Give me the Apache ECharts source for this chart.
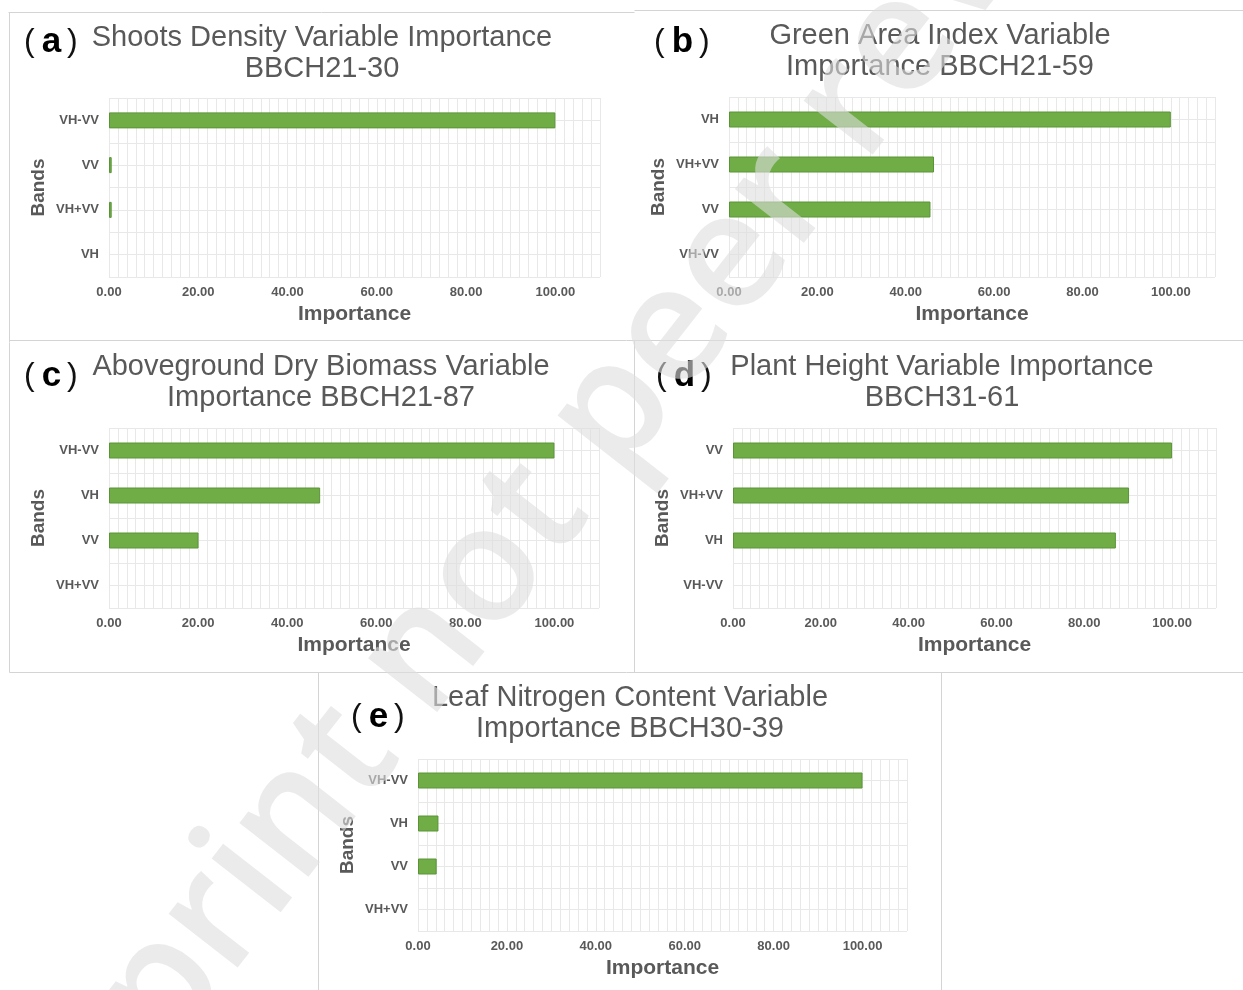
<!DOCTYPE html>
<html>
<head>
<meta charset="utf-8">
<script src="https://cdn.jsdelivr.net/npm/echarts@6/dist/echarts.min.js"></script>
<style>
html, body { margin: 0; padding: 0; background: #ffffff; }
#chart { width: 1243px; height: 990px; }
</style>
</head>
<body>
<div id="chart"></div>
<script>
// ---- data: band importance per crop parameter (top row of each panel first) ----
const bandsA = ['VH-VV', 'VV', 'VH+VV', 'VH'];
const importanceA = [100, 0.6, 0.6, 0];

const bandsB = ['VH', 'VH+VV', 'VV', 'VH-VV'];
const importanceB = [100, 46.4, 45.6, 0];

const bandsC = ['VH-VV', 'VH', 'VV', 'VH+VV'];
const importanceC = [100, 47.4, 20.1, 0];

const bandsD = ['VV', 'VH+VV', 'VH', 'VH-VV'];
const importanceD = [100, 90.2, 87.2, 0];

const bandsE = ['VH-VV', 'VH', 'VV', 'VH+VV'];
const importanceE = [100, 4.6, 4.2, 0];

const panelTags = ['a', 'b', 'c', 'd', 'e'];
const panelTitles = [
  ['Shoots Density Variable Importance', 'BBCH21-30'],
  ['Green Area Index Variable', 'Importance BBCH21-59'],
  ['Aboveground Dry Biomass Variable', 'Importance BBCH21-87'],
  ['Plant Height Variable Importance', 'BBCH31-61'],
  ['Leaf Nitrogen Content Variable', 'Importance BBCH30-39']
];
const xAxisName = 'Importance';
const yAxisName = 'Bands';
const xLabelValues = [0, 20, 40, 60, 80, 100];

const bandSets = [bandsA, bandsB, bandsC, bandsD, bandsE];
const valueSets = [importanceA, importanceB, importanceC, importanceD, importanceE];

// ---- layout of the five panels ----
const layout = [
  { grid: { left: 109, top: 98, width: 491, height: 179 }, title: [322, 38], tag: [24, 42] },
  { grid: { left: 729, top: 97, width: 486, height: 180 }, title: [940, 36], tag: [654, 42] },
  { grid: { left: 109, top: 428, width: 490, height: 180 }, title: [321, 367], tag: [24, 376] },
  { grid: { left: 733, top: 428, width: 483, height: 180 }, title: [942, 367], tag: [656, 376] },
  { grid: { left: 418, top: 759, width: 489, height: 172 }, title: [630, 698], tag: [351, 717] }
];

const GRID_LINE = '#e8e8e8';
const TEXT_GRAY = '#595959';
const BAR_FILL = '#70ad47';
const BAR_EDGE = '#5a9437';
const FONT = '"Liberation Sans", Arial, sans-serif';

const grids = [], xAxes = [], yAxes = [], series = [], graphics = [];

layout.forEach((p, i) => {
  grids.push(Object.assign({ containLabel: false }, p.grid));

  xAxes.push({
    type: 'value', gridIndex: i, min: 0, max: 110, interval: 2,
    axisLine: { show: false }, axisTick: { show: false },
    splitLine: { show: true, lineStyle: { color: GRID_LINE, width: 1 } },
    axisLabel: {
      margin: 9, color: TEXT_GRAY, fontFamily: FONT, fontWeight: 'bold', fontSize: 13,
      formatter: v => (xLabelValues.indexOf(Math.round(v)) >= 0 && Math.abs(v - Math.round(v)) < 1e-6) ? Math.round(v).toFixed(2) : ''
    },
    name: xAxisName, nameLocation: 'middle', nameGap: 27,
    nameTextStyle: { color: TEXT_GRAY, fontFamily: FONT, fontWeight: 'bold', fontSize: 21 }
  });

  // category axis carrying the bars
  yAxes.push({
    type: 'category', gridIndex: i, data: bandSets[i], inverse: true,
    axisLine: { show: false }, axisTick: { show: false }, splitLine: { show: false },
    axisLabel: { margin: 10, color: TEXT_GRAY, fontFamily: FONT, fontWeight: 'bold', fontSize: 13 },
    name: yAxisName, nameLocation: 'middle', nameGap: 61, nameRotate: 90,
    nameTextStyle: { color: TEXT_GRAY, fontFamily: FONT, fontWeight: 'bold', fontSize: 19 }
  });
  // helper axis: horizontal gridlines at half-category steps
  yAxes.push({
    type: 'value', gridIndex: i, min: 0, max: 4, interval: 0.5, position: 'right',
    axisLine: { show: false }, axisTick: { show: false }, axisLabel: { show: false },
    splitLine: { show: true, lineStyle: { color: GRID_LINE, width: 1 } }
  });

  series.push({
    type: 'bar', xAxisIndex: i, yAxisIndex: i * 2, barWidth: 16, silent: true,
    data: valueSets[i].map(v => (v > 0 ? v : { value: v, itemStyle: { borderWidth: 0 } })),
    itemStyle: { color: BAR_FILL, borderColor: BAR_EDGE, borderWidth: 1 }
  });

  // panel title (two lines)
  panelTitles[i].forEach((line, k) => {
    graphics.push({
      type: 'text', x: p.title[0], y: p.title[1] + k * 31, silent: true,
      style: { text: line, font: '29px ' + FONT, fill: TEXT_GRAY, align: 'center', verticalAlign: 'middle' }
    });
  });
  // panel tag
  graphics.push({
    type: 'text', x: p.tag[0], y: p.tag[1], silent: true,
    style: {
      text: '{p|(}{l|' + panelTags[i] + '}{p|)}', align: 'left', verticalAlign: 'middle',
      rich: {
        p: { font: '32px ' + FONT, fill: '#111111' },
        l: { font: 'bold 35px ' + FONT, fill: '#000000', padding: [0, 6, 0, 7] }
      }
    }
  });
});

// panel frame lines
const frame = [
  [8, 12, 634, 12], [634, 10, 1243, 10], [9, 12, 9, 672],
  [9, 340, 1243, 340], [634, 340, 634, 672], [9, 672, 1243, 672],
  [318, 672, 318, 990], [941, 672, 941, 990]
];
frame.forEach(s => graphics.push({
  type: 'line', silent: true, z: 0,
  shape: { x1: s[0] + 0.5, y1: s[1] + 0.5, x2: s[2] + 0.5, y2: s[3] + 0.5 },
  style: { stroke: '#d4d4d4', lineWidth: 1 }
}));

// diagonal watermark across the figure
graphics.push({
  type: 'text', x: 33, y: 1286, rotation: 52 * Math.PI / 180, silent: true, z: 100,
  style: {
    text: 'Preprint not peer reviewed', font: '600 162px "Open Sans", sans-serif',
    fill: 'rgba(222,222,222,0.6)', align: 'left', verticalAlign: 'bottom'
  }
});

const chart = echarts.init(document.getElementById('chart'), null, { renderer: 'canvas' });
chart.setOption({
  backgroundColor: '#ffffff',
  animation: false,
  grid: grids,
  xAxis: xAxes,
  yAxis: yAxes,
  series: series,
  graphic: graphics
});
</script>
</body>
</html>
